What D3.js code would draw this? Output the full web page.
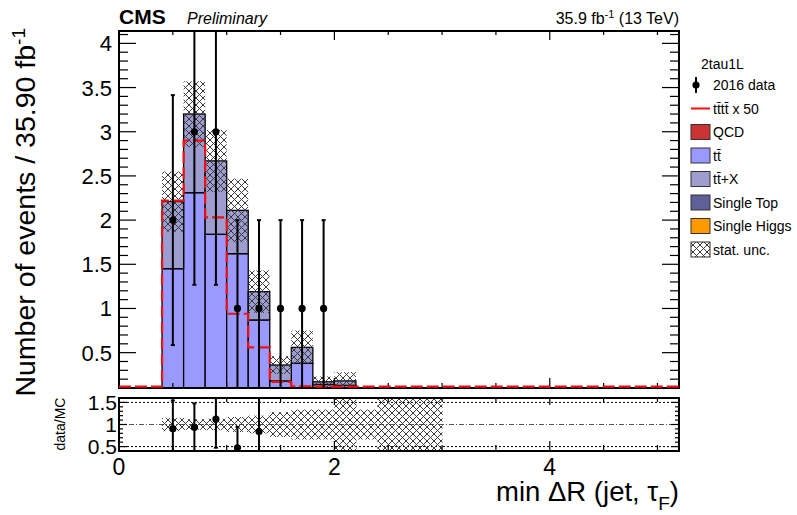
<!DOCTYPE html>
<html>
<head>
<meta charset="utf-8">
<script src="https://cdn.jsdelivr.net/npm/d3@7"></script>
<style>
  body { margin: 0; background: white; }
  text { font-family: "Liberation Sans", Arial, sans-serif; }
</style>
</head>
<body>
<div id="chart"></div>
<script>
// data (bins of 0.2 in min dR)
var binLow = [0,0.2,0.4,0.6,0.8,1.0,1.2,1.4,1.6,1.8,2.0,2.2,2.4,2.6,2.8,3.0,3.2,3.4,3.6,3.8,4.0,4.2,4.4,4.6,4.8,5.0];
var BINW = 0.2;
var qcd        = [0,0,0,0,0,0,0,0,0,0,0,0,0,0,0,0,0,0,0,0,0,0,0,0,0,0];
var ttbar      = [0,0,1.45,2.31,1.84,1.62,0.87,0.18,0.38,0.14,0.13,0,0,0,0,0,0,0,0,0,0,0,0,0,0,0];
var ttX        = [0,0,0.76,0.89,0.83,0.49,0.32,0.18,0.18,0.03,0.05,0,0,0,0,0,0,0,0,0,0,0,0,0,0,0];
var singleTop  = [0,0,0,0,0,0,0,0,0,0,0,0,0,0,0,0,0,0,0,0,0,0,0,0,0,0];
var singleHiggs= [0,0,0,0,0,0,0,0,0,0,0,0,0,0,0,0,0,0,0,0,0,0,0,0,0,0];
var statUnc    = [0,0,0.34,0.37,0.35,0.36,0.24,0.1,0.19,0.06,0.1,0,0,0,0,0,0,0,0,0,0,0,0,0,0,0];
var tttt50     = [0,0,2.22,2.9,2.03,0.94,0.56,0.17,0.12,0.05,0,0,0,0,0,0,0,0,0,0,0,0,0,0,0,0];
var data2016   = [0,0,2,3,3,1,1,1,1,1,0,0,0,0,0,0,0,0,0,0,0,0,0,0,0,0];
var ratioUnc   = [0,0,0.15,0.12,0.13,0.17,0.2,0.28,0.34,0.34,0.6,0.34,1,1,1,0,0,0,0,0,0,0,0,0,0,0];

var yMainTicks = [0.5,1,1.5,2,2.5,3,3.5,4];
var yRatioTicks = [0.5,1,1.5];
var xTicks = [0,2,4];

var keys = ["qcd","ttbar","ttX","singleTop","singleHiggs"];
var colors = {qcd:"#cc3333", ttbar:"#9999ff", ttX:"#9d9dcf", singleTop:"#5f5f99", singleHiggs:"#ff9900"};

// layout
var W = 797, H = 515;
var L = 119, R = 679;
var MT = 31, MB = 388;
var RT = 398, RB = 451;

var svg = d3.select("#chart").append("svg")
  .attr("width", W).attr("height", H);

var x = d3.scaleLinear().domain([0,5.2]).range([L,R]);
var y = d3.scaleLinear().domain([0.1,4.14]).range([MB,MT]);
var yr = d3.scaleLinear().domain([0.4,1.6]).range([RB,RT]);

var defs = svg.append("defs");
var pat = defs.append("pattern").attr("id","hatch")
  .attr("patternUnits","userSpaceOnUse").attr("width",7).attr("height",7);
pat.append("path").attr("d","M0,0L7,7M7,0L0,7M-1,6L1,8M6,-1L8,1")
  .attr("stroke","#333").attr("stroke-width",0.95).attr("fill","none");
defs.append("clipPath").attr("id","clipMain").append("rect")
  .attr("x",L).attr("y",MT).attr("width",R-L).attr("height",MB-MT);
defs.append("clipPath").attr("id","clipRatio").append("rect")
  .attr("x",L).attr("y",RT).attr("width",R-L).attr("height",RB-RT);

// table for the stack
var table = binLow.map(function(lo,i){
  return {lo:lo, qcd:qcd[i], ttbar:ttbar[i], ttX:ttX[i], singleTop:singleTop[i], singleHiggs:singleHiggs[i]};
});
var series = d3.stack().keys(keys)(table);
var total = table.map(function(d){ return keys.reduce(function(s,k){ return s + d[k]; }, 0); });

///////////////////// main panel /////////////////////
var main = svg.append("g").attr("clip-path","url(#clipMain)");

series.forEach(function(s){
  main.append("g").selectAll("rect")
    .data(s.filter(function(d){ return d[1] - d[0] > 0; }))
    .enter().append("rect")
    .attr("x", function(d){ return x(d.data.lo); })
    .attr("width", x(BINW) - x(0))
    .attr("y", function(d){ return y(d[1]); })
    .attr("height", function(d){ return y(Math.max(d[0],0)) - y(d[1]); })
    .style("fill", colors[s.key])
    .style("stroke", "black")
    .style("stroke-width", 1.3);
});

// stat. unc. hatch
main.append("g").selectAll("rect")
  .data(binLow.filter(function(lo,i){ return statUnc[i] > 0; }))
  .enter().append("rect")
  .attr("x", function(lo){ return x(lo); })
  .attr("width", x(BINW) - x(0))
  .attr("y", function(lo){ var i = binLow.indexOf(lo); return y(total[i] + statUnc[i]); })
  .attr("height", function(lo){ var i = binLow.indexOf(lo); return y(total[i] - statUnc[i]) - y(total[i] + statUnc[i]); })
  .style("fill", "url(#hatch)");

///////////////////// ratio panel /////////////////////
var ratio = svg.append("g");
[0.5,1.5].forEach(function(v){
  ratio.append("line").attr("x1",L).attr("x2",R).attr("y1",yr(v)).attr("y2",yr(v))
    .style("stroke","black").style("stroke-width",1).style("stroke-dasharray","2,2");
});
ratio.append("line").attr("x1",L).attr("x2",R).attr("y1",yr(1)).attr("y2",yr(1))
  .style("stroke","#555").style("stroke-width",1).style("stroke-dasharray","5,2,1,2");

var rclip = ratio.append("g").attr("clip-path","url(#clipRatio)");
rclip.selectAll("rect.band")
  .data(binLow.filter(function(lo,i){ return ratioUnc[i] > 0; }))
  .enter().append("rect")
  .attr("x", function(lo){ return x(lo); })
  .attr("width", x(BINW) - x(0) + 0.5)
  .attr("y", function(lo){ var i = binLow.indexOf(lo); return yr(1 + ratioUnc[i]); })
  .attr("height", function(lo){ var i = binLow.indexOf(lo); return yr(1 - ratioUnc[i]) - yr(1 + ratioUnc[i]); })
  .style("fill","url(#hatch)");

binLow.forEach(function(lo,i){
  var n = data2016[i];
  if (n <= 0 || total[i] <= 0) return;
  var r = n / total[i], e = Math.sqrt(n) / total[i];
  if (r < 0.4 || r > 1.6) return;
  var cx = x(lo + BINW/2);
  rclip.append("line").attr("x1",cx).attr("x2",cx)
    .attr("y1", yr(r+e)).attr("y2", yr(Math.max(r-e,0)))
    .style("stroke","black").style("stroke-width",2);
  [r+e, r-e].forEach(function(v){
    rclip.append("line").attr("x1",cx-2).attr("x2",cx+2)
      .attr("y1",yr(v)).attr("y2",yr(v))
      .style("stroke","black").style("stroke-width",2);
  });
  rclip.append("circle").attr("cx",cx).attr("cy",yr(r)).attr("r",3.6).style("fill","black");
});

///////////////////// axes and frames /////////////////////
function tickMarks(g, vals, orient, pos, len, scale){
  vals.forEach(function(v){
    var p = scale(v);
    var ln = g.append("line").style("stroke","black").style("stroke-width",1.2);
    if (orient == "left")   ln.attr("x1",pos).attr("x2",pos+len).attr("y1",p).attr("y2",p);
    if (orient == "right")  ln.attr("x1",pos).attr("x2",pos-len).attr("y1",p).attr("y2",p);
    if (orient == "bottom") ln.attr("x1",p).attr("x2",p).attr("y1",pos).attr("y2",pos-len);
    if (orient == "top")    ln.attr("x1",p).attr("x2",p).attr("y1",pos).attr("y2",pos+len);
  });
}
var ax = svg.append("g");
var xMinor = x.ticks(11).filter(function(v){ return xTicks.indexOf(v) < 0; });
var yMinor = y.ticks(40).filter(function(v){ return Math.abs(v*2 - Math.round(v*2)) > 1e-6 && v > 0.1; });
var yrMinor = yr.ticks(12).filter(function(v){ return yRatioTicks.indexOf(v) < 0 && v > 0.4 && v < 1.6; });

// main
tickMarks(ax, yMainTicks, "left", L, 17, y);
tickMarks(ax, yMinor, "left", L, 9, y);
tickMarks(ax, yMainTicks, "right", R, 17, y);
tickMarks(ax, yMinor, "right", R, 9, y);
tickMarks(ax, xTicks, "bottom", MB, 10, x);
tickMarks(ax, xMinor, "bottom", MB, 5, x);
tickMarks(ax, xTicks, "top", MT, 9, x);
tickMarks(ax, xMinor, "top", MT, 4, x);
// ratio
tickMarks(ax, yRatioTicks, "left", L, 8, yr);
tickMarks(ax, yrMinor, "left", L, 4, yr);
tickMarks(ax, yRatioTicks, "right", R, 8, yr);
tickMarks(ax, yrMinor, "right", R, 4, yr);
tickMarks(ax, xTicks, "bottom", RB, 10, x);
tickMarks(ax, xMinor, "bottom", RB, 6, x);
tickMarks(ax, xTicks, "top", RT, 7, x);
tickMarks(ax, xMinor, "top", RT, 4, x);

ax.append("rect").attr("x",L).attr("y",MT).attr("width",R-L).attr("height",MB-MT)
  .style("fill","none").style("stroke","black").style("stroke-width",2);
ax.append("rect").attr("x",L).attr("y",RT).attr("width",R-L).attr("height",RB-RT)
  .style("fill","none").style("stroke","black").style("stroke-width",2);

// tttt x 50 step line (drawn above the frame so the bottom run stays visible)
var stepPts = [];
binLow.forEach(function(lo,i){
  var v = Math.max(tttt50[i], 0.115);
  stepPts.push([x(lo), y(v)]);
  stepPts.push([x(lo+BINW), y(v)]);
});
svg.append("path")
  .attr("d", d3.line()(stepPts))
  .attr("clip-path","url(#clipMain)")
  .style("fill","none")
  .style("stroke","#ee1111")
  .style("stroke-width",2.2)
  .style("stroke-dasharray","12,4");

// data points
var pts = svg.append("g").attr("clip-path","url(#clipMain)");
binLow.forEach(function(lo,i){
  var n = data2016[i];
  if (n <= 0) return;
  var cx = x(lo + BINW/2), e = Math.sqrt(n);
  pts.append("line").attr("x1",cx).attr("x2",cx)
    .attr("y1", y(n+e)).attr("y2", y(Math.max(n-e,0)))
    .style("stroke","black").style("stroke-width",2);
  [n+e, n-e].forEach(function(v){
    pts.append("line").attr("x1",cx-2).attr("x2",cx+2)
      .attr("y1",y(v)).attr("y2",y(v))
      .style("stroke","black").style("stroke-width",2);
  });
  pts.append("circle").attr("cx",cx).attr("cy",y(n)).attr("r",3.6).style("fill","black");
});

// tick labels
var fmt = d3.format("~g");
ax.selectAll("text.ym").data(yMainTicks).enter().append("text")
  .attr("x", L-7).attr("y", function(d){ return y(d) + 8; })
  .attr("text-anchor","end").attr("font-size","22px").text(fmt);
ax.selectAll("text.yr").data(yRatioTicks).enter().append("text")
  .attr("x", L-2).attr("y", function(d){ return yr(d) + 7.5; })
  .attr("text-anchor","end").attr("font-size","21px").text(fmt);
ax.selectAll("text.xt").data(xTicks).enter().append("text")
  .attr("x", function(d){ return x(d); }).attr("y", 475)
  .attr("text-anchor","middle").attr("font-size","23px").text(fmt);

// titles
var yt = svg.append("text").attr("transform","translate(35,28) rotate(-90)")
  .attr("text-anchor","end").attr("font-size","28.5px");
yt.append("tspan").text("Number of events / 35.90 fb");
yt.append("tspan").attr("dy",-10).attr("font-size","19px").text("-1");

svg.append("text").attr("transform","translate(65,424) rotate(-90)")
  .attr("text-anchor","middle").attr("font-size","14px").text("data/MC");

var xt = svg.append("text").attr("x",R).attr("y",501)
  .attr("text-anchor","end").attr("font-size","27.5px");
xt.append("tspan").text("min \u0394R (jet, \u03c4");
xt.append("tspan").attr("dy",9).attr("font-size","19px").text("F");
xt.append("tspan").attr("dy",-9).text(")");

svg.append("text").attr("x",L).attr("y",24).attr("font-size","21px")
  .attr("font-weight","bold").text("CMS");
svg.append("text").attr("x",187).attr("y",24).attr("font-size","16px")
  .attr("font-style","italic").text("Preliminary");
var lumi = svg.append("text").attr("x",R).attr("y",24).attr("text-anchor","end").attr("font-size","16px");
lumi.append("tspan").text("35.9 fb");
lumi.append("tspan").attr("dy",-6).attr("font-size","11px").text("-1");
lumi.append("tspan").attr("dy",6).text(" (13 TeV)");

///////////////////// legend /////////////////////
var leg = svg.append("g");
leg.append("text").attr("x",701).attr("y",69).attr("font-size","14px").text("2tau1L");

var legItems = [
  {label:"2016 data", type:"data"},
  {label:"tt\u0304tt\u0304 x 50", type:"line"},
  {label:"QCD", type:"box", color:colors.qcd},
  {label:"tt\u0304", type:"box", color:colors.ttbar},
  {label:"tt\u0304+X", type:"box", color:colors.ttX},
  {label:"Single Top", type:"box", color:colors.singleTop},
  {label:"Single Higgs", type:"box", color:colors.singleHiggs},
  {label:"stat. unc.", type:"hatch"}
];

legItems.forEach(function(d,i){
  var cy = 85 + i*23.5;
  if (d.type == "data"){
    leg.append("line").attr("x1",696).attr("x2",696).attr("y1",cy-8).attr("y2",cy+8)
      .style("stroke","black").style("stroke-width",2);
    leg.append("circle").attr("cx",696).attr("cy",cy).attr("r",3.6).style("fill","black");
  } else if (d.type == "line"){
    leg.append("line").attr("x1",691).attr("x2",710).attr("y1",cy).attr("y2",cy)
      .style("stroke","#ee1111").style("stroke-width",2);
  } else if (d.type == "box"){
    leg.append("rect").attr("x",691).attr("y",cy-7.5).attr("width",19).attr("height",15)
      .style("fill",d.color).style("stroke","#333").style("stroke-width",1);
  } else {
    leg.append("rect").attr("x",691).attr("y",cy-7.5).attr("width",19).attr("height",15)
      .style("fill","url(#hatch)").style("stroke","#333").style("stroke-width",1);
  }
  leg.append("text").attr("x",713).attr("y",cy+5).attr("font-size","14px").text(d.label);
});
</script>
</body>
</html>
